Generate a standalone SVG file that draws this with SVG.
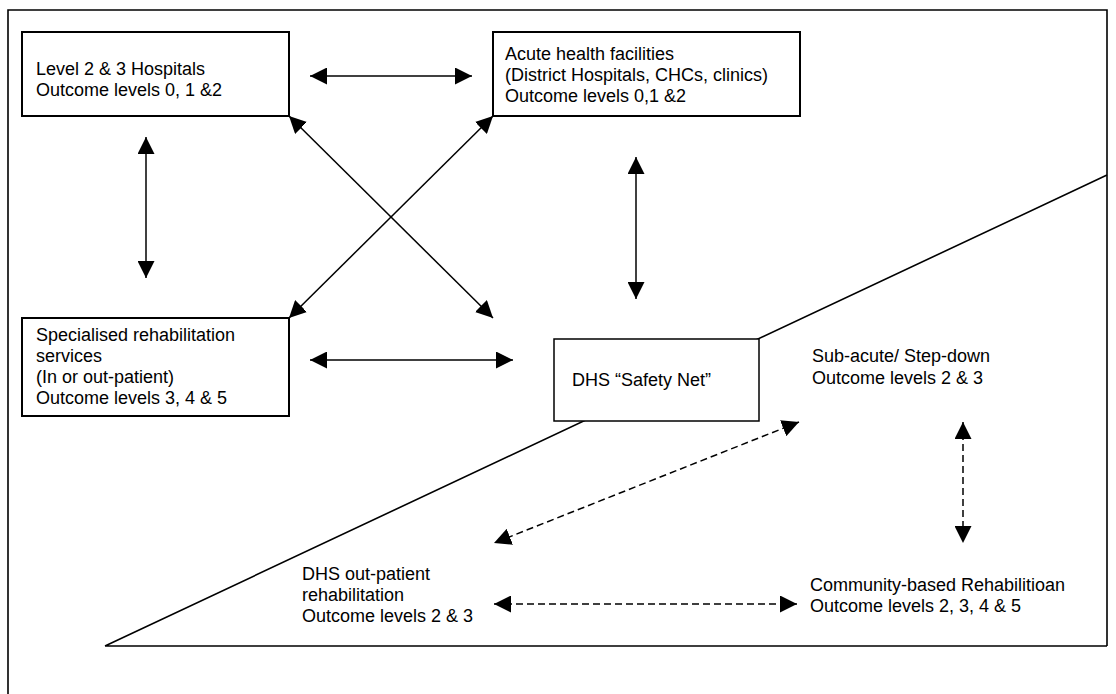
<svg xmlns="http://www.w3.org/2000/svg" width="1116" height="694" viewBox="0 0 1116 694">
  <defs>
    <style>
      .box { fill: #ffffff; stroke: #000000; stroke-width: 2; }
      .thin { fill: #ffffff; stroke: #000000; stroke-width: 1.5; }
      .frame { fill: none; stroke: #000000; stroke-width: 1.6; }
      .edge { fill: none; stroke: #000000; stroke-width: 1.5; marker-start: url(#tip); marker-end: url(#tip); }
      .dash { stroke-dasharray: 7 4; }
      text { font-family: "Liberation Sans", Arial, sans-serif; font-size: 18px; fill: #000000; }
    </style>
    <marker id="tip" markerUnits="userSpaceOnUse" markerWidth="17" markerHeight="17" refX="17" refY="8.5" orient="auto-start-reverse">
      <path d="M0,0 L17,8.5 L0,17 Z" fill="#000000"/>
    </marker>
  </defs>

  <rect width="1116" height="694" fill="#ffffff"/>

  <!-- outer frame, open at the bottom -->
  <path class="frame" d="M8,694 V10 H1107 V646"/>
  <!-- wedge of the district health services -->
  <path class="frame" d="M105,646 L1107,175 M105,646 H1107"/>

  <g id="connectors">
    <line class="edge" x1="310" y1="76" x2="472" y2="76"/>
    <line class="edge" x1="146" y1="137" x2="146" y2="278"/>
    <line class="edge" x1="636" y1="157" x2="636" y2="299"/>
    <line class="edge" x1="289" y1="116" x2="493" y2="318"/>
    <line class="edge" x1="493" y1="116" x2="289" y2="318"/>
    <line class="edge" x1="310" y1="360" x2="513" y2="360"/>
    <line class="edge dash" x1="799" y1="422" x2="494" y2="543"/>
    <line class="edge dash" x1="963" y1="422" x2="963" y2="543"/>
    <line class="edge dash" x1="494" y1="604" x2="797" y2="604"/>
  </g>

  <g id="level23">
    <rect class="box" x="22" y="32" width="267" height="84"/>
    <text x="36" y="75">Level 2 &amp; 3 Hospitals</text>
    <text x="36" y="96">Outcome levels 0, 1 &amp;2</text>
  </g>

  <g id="acute">
    <rect class="box" x="493" y="32" width="307" height="84"/>
    <text x="505" y="60">Acute health facilities</text>
    <text x="505" y="81">(District Hospitals, CHCs, clinics)</text>
    <text x="505" y="102">Outcome levels 0,1 &amp;2</text>
  </g>

  <g id="specialised">
    <rect class="box" x="22" y="318" width="267" height="98"/>
    <text x="36" y="341">Specialised rehabilitation</text>
    <text x="36" y="362">services</text>
    <text x="36" y="383">(In or out-patient)</text>
    <text x="36" y="404">Outcome levels 3, 4 &amp; 5</text>
  </g>

  <g id="safety-net">
    <rect class="thin" x="554" y="339" width="205" height="82"/>
    <text x="572" y="386">DHS “Safety Net”</text>
  </g>

  <g id="sub-acute">
    <text x="812" y="362">Sub-acute/ Step-down</text>
    <text x="812" y="384">Outcome levels 2 &amp; 3</text>
  </g>

  <g id="outpatient">
    <text x="302" y="580">DHS out-patient</text>
    <text x="302" y="601">rehabilitation</text>
    <text x="302" y="622">Outcome levels 2 &amp; 3</text>
  </g>

  <g id="community">
    <text x="810" y="591">Community-based Rehabilitioan</text>
    <text x="810" y="612">Outcome levels 2, 3, 4 &amp; 5</text>
  </g>
</svg>
